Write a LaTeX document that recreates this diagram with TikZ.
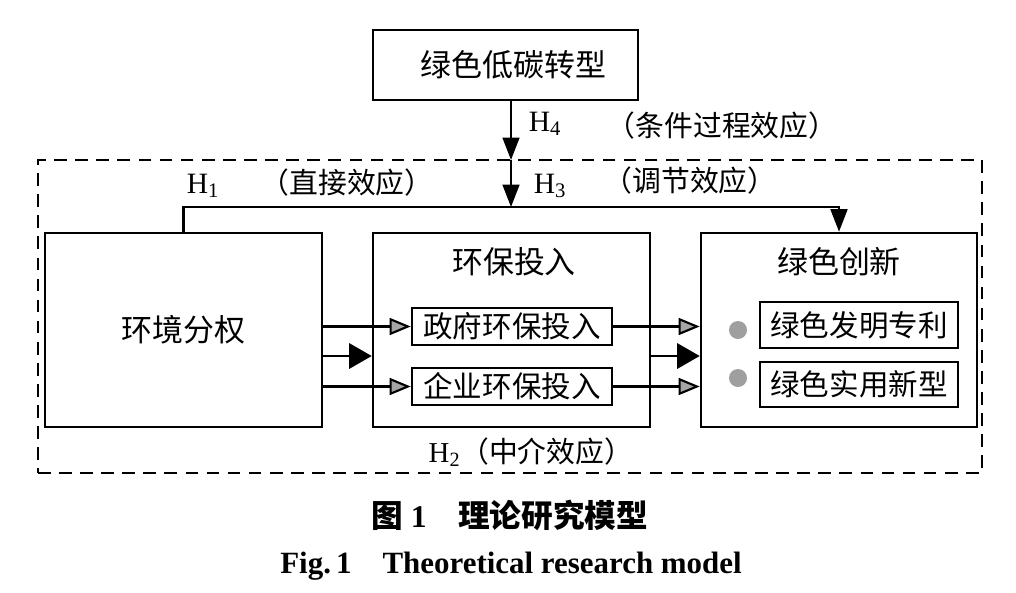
\documentclass[tikz,border=0pt]{standalone}
\usepackage{fontspec}
\setmainfont{Liberation Serif}
\newfontfamily\cjk{Noto Sans CJK SC}
\usetikzlibrary{positioning,arrows.meta}

\begin{document}
\begin{tikzpicture}[x=0.025cm,y=-0.025cm,line width=1.5pt,
  box/.style={draw,line width=1.8pt,inner sep=0pt},
  zh/.style={font=\cjk\fontsize{21}{24}\selectfont},
  zhbig/.style={font=\cjk\fontsize{22}{26}\selectfont},
  eff/.style={font=\cjk\fontsize{20.5}{23}\selectfont},
  hyp/.style={font=\fontsize{21}{24}\selectfont},
  dot/.style={circle,fill=gray!75,inner sep=0pt,minimum size=0.45cm},
  greytip/.style={-{Triangle[length=15pt,width=12pt,fill=gray!70]}},
  blacktip/.style={-{Triangle[length=16pt,width=18pt]}},
  vtip/.style={-{Triangle[length=16pt,width=12pt]}}]
\fill[white] (0,0) rectangle (1016,592);
\useasboundingbox (0,0) rectangle (1016,592);

% frame of the model
\node[draw,dashed,line width=1.6pt,dash pattern=on 9pt off 6pt,minimum width=23.6cm,minimum height=7.825cm] (model) at (510,316.5) {};

% main boxes
\node[box,zhbig,minimum width=6.625cm,minimum height=1.75cm] (top) at (505.5,65) {\hspace{0.4cm}绿色低碳转型};
\node[box,zhbig,minimum width=6.925cm,minimum height=4.85cm] (left) at (183.5,330) {环境分权};
\node[box,minimum width=6.925cm,minimum height=4.85cm] (mid) at (511.5,330) {};
\node[box,minimum width=6.9cm,minimum height=4.85cm] (right) at (839,330) {};
\node[zhbig] (midtitle) at (514,262) {环保投入};
\node[zhbig] (righttitle) at (839,262) {绿色创新};

% inner boxes
\node[box,zh,minimum width=5cm,minimum height=0.925cm] (gov) at (512,326.5) {政府环保投入};
\node[box,zh,minimum width=5cm,minimum height=0.925cm] (ent) at (512,386.5) {企业环保投入};
\node[box,zh,minimum width=4.95cm,minimum height=1.15cm] (inv) at (859,325) {绿色发明专利};
\node[box,zh,minimum width=4.95cm,minimum height=1.125cm] (uti) at (859,384.5) {绿色实用新型};
\node[dot] (d1) at (738,330) {};
\node[dot] (d2) at (738,378) {};

% hypotheses
\coordinate (hj) at (511,207);
\coordinate (hx) at (511,160);
\draw[vtip] (top.south -| hj) -- (hx);
\draw[vtip] (hx) -- (hj);
\draw[vtip] (left.north) |- (hj) -| (right.north);

\draw[greytip] (left.east |- gov.west) -- (gov.west);
\draw[greytip] (left.east |- ent.west) -- (ent.west);
\draw[blacktip] ([yshift=-0.65cm]left.east) -- ([yshift=-0.65cm]mid.west);
\draw[greytip] (gov.east) -- (right.west |- gov.east);
\draw[greytip] (ent.east) -- (right.west |- ent.east);
\draw[blacktip] ([yshift=-0.65cm]mid.east) -- ([yshift=-0.65cm]right.west);

% labels
\node[hyp] (h4) at (545,124) {H\textsubscript{4}};
\node[eff] (e4) at (722,126) {（条件过程效应）};
\node[hyp] (h3) at (550,186) {H\textsubscript{3}};
\node[eff] (e3) at (690,181) {（调节效应）};
\node[hyp] (h1) at (203,186) {H\textsubscript{1}};
\node[eff] (e1) at (347,183) {（直接效应）};
\node[eff] (h2) at (531,452) {{\fontspec{Liberation Serif}H\textsubscript{2}}（中介效应）};

% caption
\node[font=\cjk\bfseries\fontsize{22.5}{26}\selectfont] (capzh) at (510,515) {图 {\fontspec{Liberation Serif}\bfseries 1}\quad 理论研究模型};
\node[font=\bfseries\fontsize{22}{26}\selectfont] (capen) at (511,566) {Fig.\,1\quad Theoretical research model};
\end{tikzpicture}
\end{document}
